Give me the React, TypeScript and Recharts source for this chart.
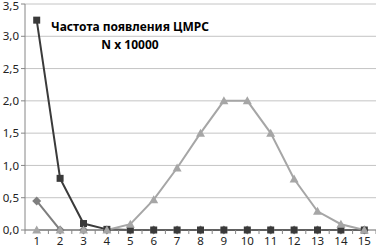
import React from 'react';
import { LineChart, Line, XAxis, YAxis, CartesianGrid } from 'recharts';

const positions = [1, 2, 3, 4, 5, 6, 7, 8, 9, 10, 11, 12, 13, 14, 15];
const diamondValues = [0.45, 0, 0, 0, 0, 0, 0, 0, 0, 0, 0, 0, 0, 0, 0];
const squareValues = [3.25, 0.8, 0.1, 0.01, 0, 0, 0, 0, 0, 0, 0, 0, 0, 0, 0];
const triangleValues = [0, 0, 0, 0, 0.09, 0.47, 0.96, 1.5, 2.0, 2.0, 1.5, 0.79, 0.29, 0.09, 0];
const yTicks = [0, 0.5, 1, 1.5, 2, 2.5, 3, 3.5];

const chartData = positions.map((p, i) => ({
    pos: p,
    diamond: diamondValues[i],
    square: squareValues[i],
    triangle: triangleValues[i],
}));

const W = 376;
const H = 250;
const LEFT = 25;
const halfStep = (W - LEFT) / positions.length / 2;

const fmt = (v: number) => v.toFixed(1).replace('.', ',');

const SquareDot = (props: any) => {
    const { cx, cy, fill } = props;
    if (cx == null || cy == null) return null;
    return <rect x={cx - 3.5} y={cy - 3.5} width={7} height={7} fill={fill} />;
};

const DiamondDot = (props: any) => {
    const { cx, cy, fill } = props;
    if (cx == null || cy == null) return null;
    return <polygon points={`${cx},${cy - 4.5} ${cx + 4.5},${cy} ${cx},${cy + 4.5} ${cx - 4.5},${cy}`} fill={fill} />;
};

const TriangleDot = (props: any) => {
    const { cx, cy, fill } = props;
    if (cx == null || cy == null) return null;
    return <polygon points={`${cx},${cy - 4.5} ${cx + 4.5},${cy + 3.5} ${cx - 4.5},${cy + 3.5}`} fill={fill} />;
};

const XTick = (props: any) => {
    const { x, y, payload, index } = props;
    const axisY = y - 7;
    return (
        <g>
            <line x1={x - halfStep} y1={axisY} x2={x - halfStep} y2={axisY + 4} stroke="#868686" />
            {index === positions.length - 1 && (
                <line x1={x + halfStep} y1={axisY} x2={x + halfStep} y2={axisY + 4} stroke="#868686" />
            )}
            <text x={x} y={y} dy="0.71em" textAnchor="middle" fontSize={11.5} fill="#222" fontFamily="'Noto Sans', sans-serif">
                {payload.value}
            </text>
        </g>
    );
};

export default function App() {
    return (
        <div style={{ position: 'absolute', left: 0, top: 0, width: W, height: H, background: '#fff' }}>
            <LineChart width={W} height={H} data={chartData} margin={{ top: 4, right: 0, left: 0, bottom: 0 }}>
                <CartesianGrid vertical={false} stroke="#c4c4c4" />
                <XAxis
                    dataKey="pos"
                    type="number"
                    domain={[0.5, 15.5]}
                    ticks={positions}
                    interval={0}
                    height={20}
                    tickLine={false}
                    tickSize={5}
                    tickMargin={2}
                    stroke="#868686"
                    tick={<XTick />}
                />
                <YAxis
                    width={LEFT}
                    domain={[0, 3.5]}
                    ticks={yTicks}
                    tickFormatter={fmt}
                    tickSize={4}
                    tickMargin={2}
                    stroke="#868686"
                    tick={{ fontSize: 11.5, fill: '#222', fontFamily: "'Noto Sans', sans-serif" }}
                />
                <Line dataKey="diamond" stroke="#7f7f7f" strokeWidth={2} fill="#7f7f7f" dot={<DiamondDot />} isAnimationActive={false} />
                <Line dataKey="square" stroke="#3a3a3a" strokeWidth={2} fill="#3a3a3a" dot={<SquareDot />} isAnimationActive={false} />
                <Line dataKey="triangle" stroke="#a6a6a6" strokeWidth={2} fill="#a6a6a6" dot={<TriangleDot />} isAnimationActive={false} />
            </LineChart>
            <div
                style={{
                    position: 'absolute',
                    left: 30,
                    top: 18,
                    width: 200,
                    textAlign: 'center',
                    fontFamily: "'Noto Sans', sans-serif",
                    fontWeight: 'bold',
                    fontSize: 12,
                    lineHeight: '18px',
                    color: '#000',
                }}
            >
                Частота появления ЦМРС
                <br />
                N x 10000
            </div>
        </div>
    );
}
